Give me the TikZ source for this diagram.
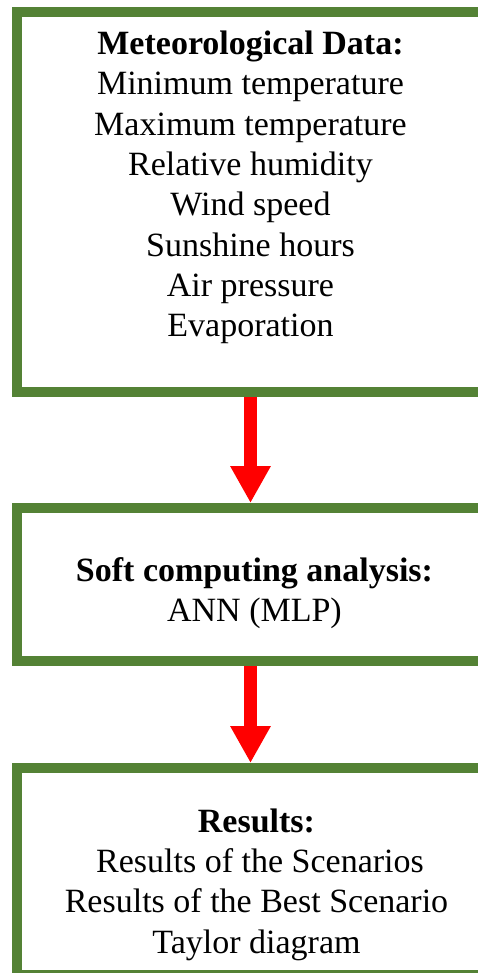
\documentclass[tikz,border=0pt]{standalone}
\usepackage{fontspec}
\setmainfont{Liberation Serif}
\usetikzlibrary{arrows.meta}
\definecolor{boxgreen}{RGB}{84,130,53}
\definecolor{flowred}{RGB}{255,0,0}

\begin{document}
\begin{tikzpicture}[x=1pt,y=-1pt,
    stagebox/.style={draw=boxgreen, line width=10pt, minimum width=467pt, inner sep=0pt},
    stagetext/.style={align=center, inner sep=0pt, font=\fontsize{34}{40.3}\selectfont},
    flow/.style={flowred, line width=13pt, -{Triangle[width=38pt,length=37pt]}}]
    \useasboundingbox (0,0) rectangle (478,973);
    \clip (0,0) rectangle (478,973);
    % boxes
    \node[stagebox, minimum height=380pt] (data) at (250.5,202) {};
    \node[stagebox, minimum height=153pt] (soft) at (250.5,584.5) {};
    \node[stagebox, minimum height=207pt] (res) at (250.5,871.5) {};
    % texts
    \node[stagetext] (datatext) at (250.5,187.5) {\textbf{Meteorological Data:}\\
        Minimum temperature\\ Maximum temperature\\ Relative humidity\\
        Wind speed\\ Sunshine hours\\ Air pressure\\ Evaporation};
    \node[stagetext] (softtext) at (254.5,593) {\textbf{Soft computing analysis:}\\ ANN (MLP)};
    \node[stagetext] (restext) at (256.5,884.5) {\textbf{Results:}\\ \hspace*{7pt}Results of the Scenarios\\
        Results of the Best Scenario\\ Taylor diagram};
    % arrows
    \draw[flow] (data.south) -- (soft.north);
    \draw[flow] (soft.south) -- (res.north);
\end{tikzpicture}
\end{document}
